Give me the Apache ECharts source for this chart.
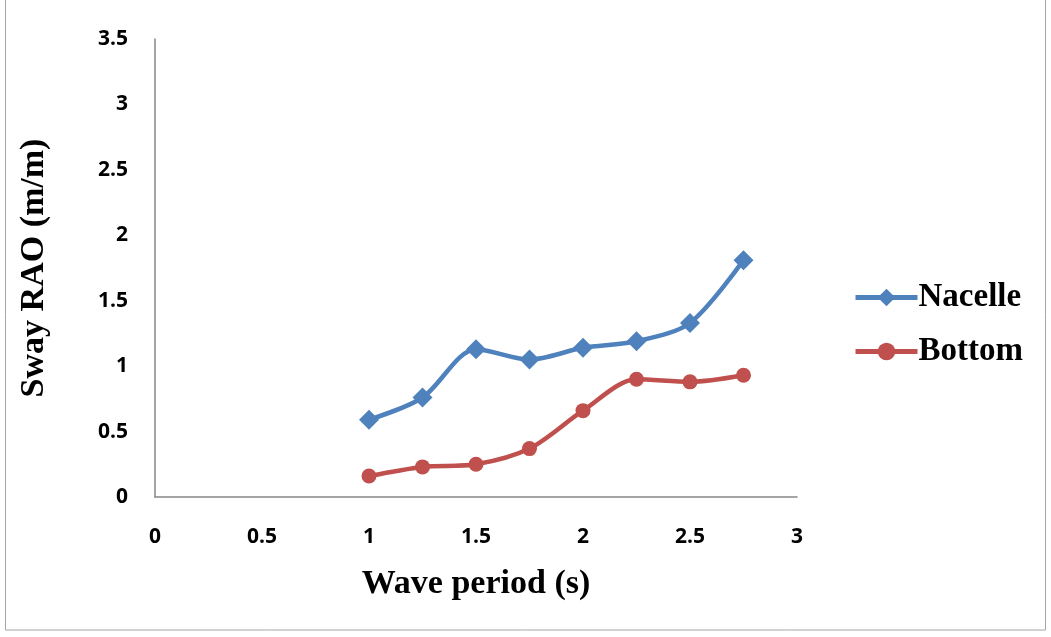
<!DOCTYPE html>
<html>
<head>
<meta charset="utf-8">
<script src="https://cdn.jsdelivr.net/npm/echarts@6/dist/echarts.min.js"></script>
<style>
  html, body { margin: 0; padding: 0; background: #fff; }
  #chart { width: 1051px; height: 637px; }
</style>
</head>
<body>
<div id="chart"></div>
<script>
// Wave periods (s) and sway RAO responses (m/m)
const periods = [1, 1.25, 1.5, 1.75, 2, 2.25, 2.5, 2.75];
const nacelle = [0.59, 0.76, 1.13, 1.05, 1.14, 1.19, 1.33, 1.81];
const bottom = [0.16, 0.23, 0.25, 0.37, 0.66, 0.90, 0.88, 0.93];
const seriesNames = ['Nacelle', 'Bottom'];

const pairs = (xs, ys) => xs.map((x, i) => [x, ys[i]]);

const chart = echarts.init(document.getElementById('chart'));
const tickFont = { fontFamily: 'Open Sans', fontWeight: 'bold', fontSize: 21, color: '#000' };
const titleFont = { fontFamily: 'Liberation Serif', fontWeight: 'bold', fontSize: 34, color: '#000' };

chart.setOption({
  backgroundColor: '#fff',
  animation: false,
  graphic: [{
    type: 'rect',
    shape: { x: 5.5, y: -2, width: 1040, height: 632 },
    style: { fill: 'none', stroke: '#a6a6a6', lineWidth: 1 }
  }],
  grid: { left: 155, right: 254, top: 39, bottom: 140, containLabel: false },
  legend: {
    orient: 'vertical',
    left: 848,
    top: 276,
    itemWidth: 62,
    itemHeight: 22,
    itemGap: 21,
    textStyle: Object.assign({}, titleFont, { fontSize: 33, padding: [0, 0, 0, -4] }),
    lineStyle: { width: 5 },
    data: seriesNames
  },
  xAxis: {
    type: 'value',
    min: 0, max: 3, interval: 0.5,
    name: 'Wave period (s)',
    nameLocation: 'middle',
    nameGap: 70,
    nameTextStyle: titleFont,
    axisLine: { lineStyle: { color: '#868686', width: 1.5 } },
    axisTick: { show: false },
    splitLine: { show: false },
    axisLabel: Object.assign({ margin: 30 }, tickFont)
  },
  yAxis: {
    type: 'value',
    min: 0, max: 3.5, interval: 0.5,
    name: 'Sway RAO (m/m)',
    nameLocation: 'middle',
    nameGap: 104,
    nameRotate: 90,
    nameTextStyle: titleFont,
    axisLine: { show: true, lineStyle: { color: '#868686', width: 1.5 } },
    axisTick: { show: false },
    splitLine: { show: false },
    axisLabel: Object.assign({ margin: 27 }, tickFont)
  },
  series: [
    {
      name: seriesNames[0],
      type: 'line',
      smooth: 0.3,
      data: pairs(periods, nacelle),
      symbol: 'diamond',
      symbolSize: 20,
      itemStyle: { color: '#4F81BD' },
      lineStyle: { color: '#4F81BD', width: 4.5 }
    },
    {
      name: seriesNames[1],
      type: 'line',
      smooth: 0.3,
      data: pairs(periods, bottom),
      symbol: 'circle',
      symbolSize: 15,
      itemStyle: { color: '#C0504D' },
      lineStyle: { color: '#C0504D', width: 4.5 }
    }
  ]
});
</script>
</body>
</html>
